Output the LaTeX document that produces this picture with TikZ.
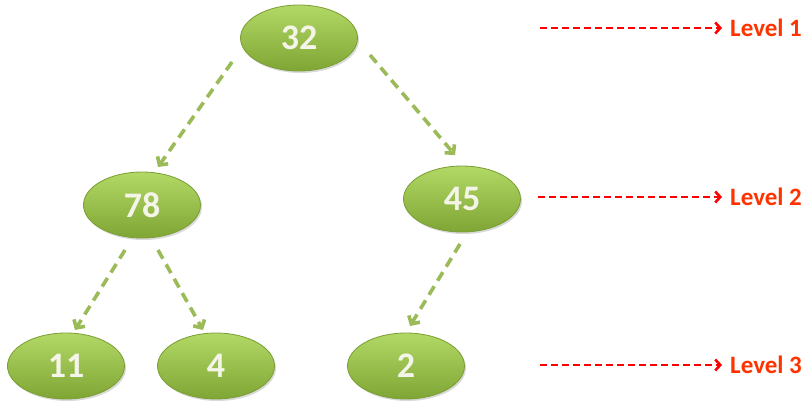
\documentclass[tikz,border=0pt]{standalone}
\usepackage{fontspec}
\setmainfont{Carlito}
\usetikzlibrary{arrows.meta,shapes.geometric,shadows}
\definecolor{nodetop}{HTML}{B2D866}
\definecolor{nodebot}{HTML}{7FA634}
\definecolor{nodeedge}{HTML}{7A9E33}
\definecolor{numtext}{HTML}{F4F4E8}
\definecolor{linkgreen}{HTML}{9BBB59}
\definecolor{levred}{HTML}{FF3300}
\tikzset{
  treenode/.style={ellipse, minimum width=117pt, minimum height=66pt, inner sep=0pt,
    top color=nodetop, bottom color=nodebot, draw=nodeedge, line width=0.8pt,
    drop shadow={shadow xshift=1.5pt, shadow yshift=-2pt, opacity=0.3},
    text=numtext, font=\bfseries\fontsize{36}{36}\selectfont},
  link/.style={draw=linkgreen, line width=3.6pt, dash pattern=on 10pt off 6.5pt,
    -{Straight Barb[length=6pt,width=13pt,line width=3.6pt]}},
  levarrow/.style={draw=red, line width=2.6pt, dash pattern=on 7pt off 4pt,
    -{Straight Barb[length=5pt,width=11pt,line width=2.6pt]}},
  levlabel/.style={anchor=west, inner sep=0pt, text=levred, font=\bfseries\fontsize{25}{25}\selectfont}
}
\begin{document}
\begin{tikzpicture}[x=1pt,y=-1pt]
\useasboundingbox (0,0) rectangle (807,404);
\node[treenode] (n32) at (299,38) {32};
\node[treenode] (n78) at (142,205) {78};
\node[treenode] (n45) at (462,199) {45};
\node[treenode] (n11) at (66,366) {11};
\node[treenode] (n4) at (216,366) {4};
\node[treenode] (n2) at (406,366) {2};

\coordinate (a1s) at (232,62);  \coordinate (a1e) at (158,167);
\coordinate (a2s) at (370,55);  \coordinate (a2e) at (455,155);
\coordinate (a3s) at (125,250); \coordinate (a3e) at (75,330);
\coordinate (a4s) at (158,250); \coordinate (a4e) at (203,330);
\coordinate (a5s) at (460,244); \coordinate (a5e) at (410,326);
\draw[link] (a1s) -- (a1e);
\draw[link] (a2s) -- (a2e);
\draw[link] (a3s) -- (a3e);
\draw[link] (a4s) -- (a4e);
\draw[link] (a5s) -- (a5e);

\node[levlabel] (l1) at (730,28) {Level 1};
\node[levlabel] (l2) at (730,197) {Level 2};
\node[levlabel] (l3) at (730,365) {Level 3};
\coordinate (r1) at (540,28);
\coordinate (r2) at (538,197);
\coordinate (r3) at (540,365);
\draw[levarrow] (r1) -- ([xshift=-8pt]l1.west);
\draw[levarrow] (r2) -- ([xshift=-8pt]l2.west);
\draw[levarrow] (r3) -- ([xshift=-8pt]l3.west);
\end{tikzpicture}
\end{document}
